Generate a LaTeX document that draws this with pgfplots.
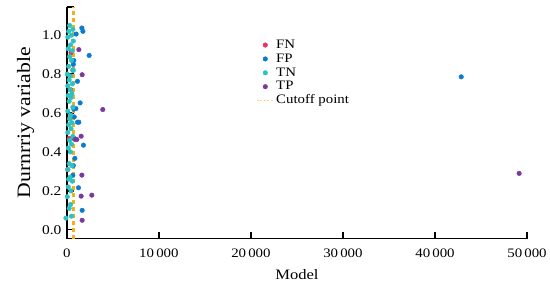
\documentclass[border=0pt]{standalone}
\usepackage{fontspec}
\setmainfont{Liberation Serif}
\newfontfamily\widefont{Liberation Serif}[FakeStretch=1.15]
\usepackage{pgfplots}
\pgfplotsset{compat=1.18}
\definecolor{cFN}{HTML}{E8335E}
\definecolor{cFP}{HTML}{0A7CD0}
\definecolor{cTN}{HTML}{2DC2C0}
\definecolor{cTP}{HTML}{7A3A9A}
\definecolor{cCut}{RGB}{245,175,25}
\begin{document}
\begin{tikzpicture}
\begin{axis}[
  name=ax,
  scale only axis, width=461bp, height=232bp,
  xmin=0, xmax=50000, ymin=-0.045, ymax=1.145,
  axis x line=bottom, axis y line=left,
  axis line style={-, line width=1.3pt, black},
  tick style={line width=1.3pt, black},
  tick align=inside, major tick length=7bp,
  xtick={0,10000,20000,30000,40000,50000},
  ytick={0,0.2,0.4,0.6,0.8,1.0},
  extra y ticks={1.145}, extra y tick labels={},
  /pgf/number format/assume math mode=true,
  xticklabel style={/pgf/number format/1000 sep={\,}, font=\widefont\fontsize{13}{14}\selectfont, yshift=-7bp},
  yticklabel style={/pgf/number format/fixed, /pgf/number format/fixed zerofill, /pgf/number format/precision=1, font=\widefont\fontsize{13.5}{14}\selectfont, xshift=-2bp},
  scaled x ticks=false,
  xlabel={Model}, ylabel={Durnrriy variable},
  xlabel style={font=\widefont\fontsize{14.5}{15}\selectfont, yshift=-5bp},
  ylabel style={font=\widefont\fontsize{19}{20}\selectfont, yshift=1bp},
  clip=false,
  legend style={draw=none, fill=none, at={(0.405,0.875)}, anchor=north west,
    font=\widefont\fontsize{13}{13}\selectfont,
    nodes={text height=9bp, text depth=2.5bp, inner ysep=1.2bp}, row sep=0pt},
  legend cell align=left,
]
\addplot[only marks, mark=*, color=cFN, mark size=2.3bp] coordinates {
(450,0.91) (400,0.72) (100,0.31) (300,0.57) (250,0.47)
};
\addlegendentry{FN}
\addplot[only marks, mark=*, color=cFP, mark size=2.3bp] coordinates {
(1630,1.037) (1740,1.02) (1010,1.006) (2420,0.896) (1150,0.763) (1440,0.652)
(980,0.623) (1150,0.553) (1300,0.553) (1800,0.435) (870,0.367) (1260,0.216)
(1660,0.10) (42850,0.786)
(750,0.87) (700,0.85) (650,0.82) (800,0.58) (750,0.62) (700,0.33) (650,0.28) (800,0.47)
};
\addlegendentry{FP}
\addplot[only marks, mark=*, color=cTN, mark size=2.3bp] coordinates {
(300,1.05) (650,1.03) (200,1.02) (500,1.00) (100,0.99) (700,0.97) (400,0.95)
(150,0.93) (600,0.92) (300,0.89) (500,0.87) (200,0.84) (700,0.82) (50,0.80)
(400,0.79) (250,0.77) (600,0.75) (100,0.74) (350,0.72) (550,0.70) (150,0.69)
(450,0.68) (250,0.66) (650,0.63) (100,0.61) (400,0.59) (300,0.57) (550,0.55)
(200,0.54) (450,0.52) (100,0.50) (650,0.48) (300,0.46) (500,0.44) (150,0.42)
(400,0.40) (250,0.34) (550,0.33) (100,0.31) (350,0.27) (200,0.26) (600,0.25)
(150,0.22) (450,0.20) (50,0.17) (400,0.13) (250,0.11) (-100,0.06) (500,0.07)
};
\addlegendentry{TN}
\addplot[only marks, mark=*, color=cTP, mark size=2.3bp] coordinates {
(1300,0.926) (1660,0.797) (3900,0.618) (1550,0.481) (900,0.464) (1080,0.464)
(1630,0.281) (1550,0.173) (2710,0.178) (1660,0.049) (49140,0.29)
};
\addlegendentry{TP}
\addlegendimage{draw=cCut!55, dash pattern=on 2bp off 1.5bp, line width=0.8pt}
\addlegendentry{Cutoff point}
\addplot[color=cCut, mark=none, line width=2.2pt, dash pattern=on 4bp off 3bp, forget plot] table {
x y
720 -0.045
720 1.145
};
\end{axis}
\path (ax.south west) ++(-67bp,-46bp) rectangle ++(550bp,285bp);
\end{tikzpicture}
\end{document}
